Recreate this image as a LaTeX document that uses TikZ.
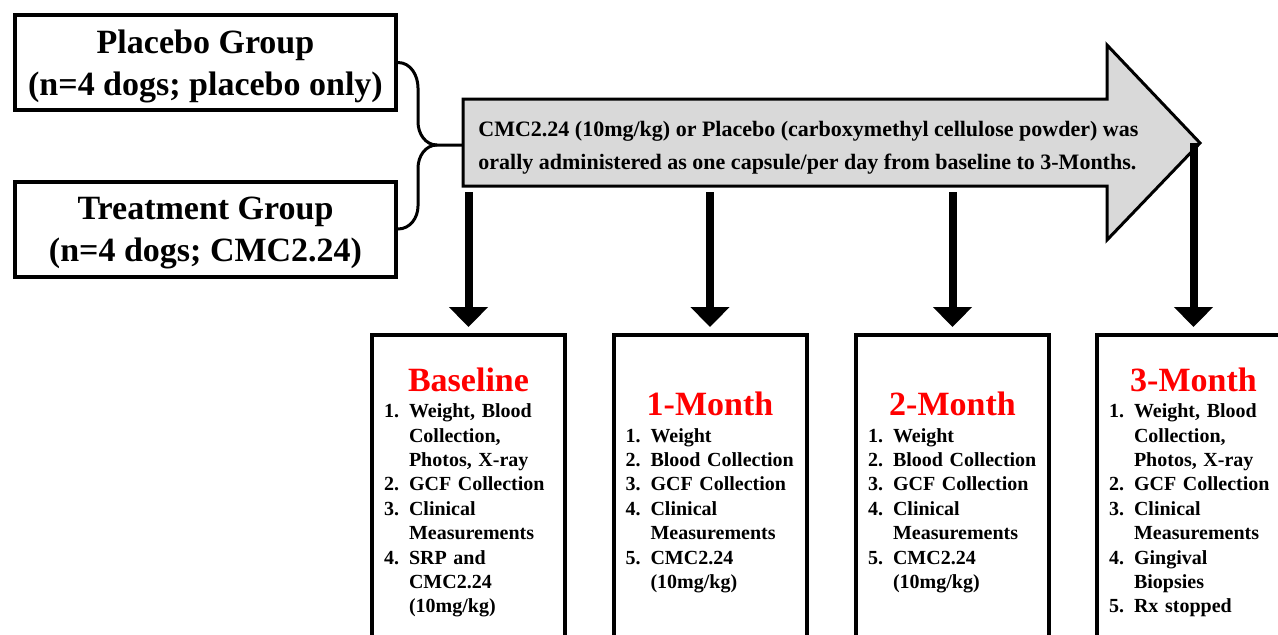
\documentclass[tikz,border=0pt]{standalone}
\usepackage{fontspec}
\setmainfont{Liberation Serif}
\usepackage{tikz}
\usetikzlibrary{arrows.meta,positioning}
\tikzset{px/.style={x=0.5pt,y=-0.5pt},
   grp/.style={draw, line width=2pt, minimum width=190.5pt, minimum height=47.5pt, text depth=0pt,
      align=center, font=\fontsize{17}{21}\selectfont\bfseries},
   stage/.style={draw, line width=2pt, minimum width=96.5pt, minimum height=155pt, anchor=north},
   steps/.style={text width=84.5pt, inner sep=0pt, align=left, yshift=-2pt,
      font=\fontsize{10}{12.2}\selectfont\bfseries},
   drugtext/.style={anchor=west, align=left, inner sep=0pt,
      font=\fontsize{11}{16.5}\selectfont\bfseries},
   brace/.style={line width=1.5pt},
   down/.style={line width=4pt, shorten >=3pt, -{Triangle[width=19pt,length=10pt]}}}
\newcommand{\stagetitle}[1]{{\noindent\centering\color{red}\fontsize{17}{20}\selectfont #1\par}\vspace{1pt}\noindent\ignorespaces}

\begin{document}
\begin{tikzpicture}[px]
\clip (0,0) rectangle (1278,634);

\node[grp] (placebo) at (205.5,62.5) {Placebo Group\\(n=4 dogs; placebo only)};
\node[grp] (treat) at (205.5,229) {Treatment Group\\(n=4 dogs; CMC2.24)};

\coordinate (tail) at (463,145);
\coordinate (tip) at (1200,143);
\draw[line width=1.5pt, fill=black!15] (463,99)--(1107,99)--(1107,45)--(tip)--(1107,240)--(1107,186)--(463,186)--cycle;
\node[drugtext] (drug) at (478,147.5) {CMC2.24 (10mg/kg) or Placebo (carboxymethyl cellulose powder) was\\
   orally administered as one capsule/per day from baseline to 3-Months.};

\coordinate (join) at (437,145);
\draw[brace] (placebo.east) to[out=0,in=90] (418,88) -- (418,122) to[out=-90,in=180] (join) -- (tail);
\draw[brace] (treat.east) to[out=0,in=-90] (418,206) -- (418,168) to[out=90,in=180] (join);

\node[stage] (base) at (468.5,333) {};
\node[stage] (mon1) at (710,333) {};
\node[stage] (mon2) at (952.5,333) {};
\node[stage] (mon3) at (1193.5,333) {};

\coordinate (drop) at (0,192);
\foreach \s in {base,mon1,mon2}
   \draw[down] (\s.north |- drop) -- (\s.north);
\draw[down] (mon3.north |- tip) -- (mon3.north);

\node[steps] (baseL) at (base.center) {\stagetitle{Baseline}
\begin{tabular}[t]{@{}l@{\hspace{5pt}}l@{}}
1. & Weight, Blood\\
   & Collection,\\
   & Photos, X-ray\\
2. & GCF Collection\\
3. & Clinical\\
   & Measurements\\
4. & SRP and\\
   & CMC2.24\\
   & (10mg/kg)
\end{tabular}};

\node[steps] (mon1L) at (mon1.center) {\stagetitle{1-Month}
\begin{tabular}[t]{@{}l@{\hspace{5pt}}l@{}}
1. & Weight\\
2. & Blood Collection\\
3. & GCF Collection\\
4. & Clinical\\
   & Measurements\\
5. & CMC2.24\\
   & (10mg/kg)
\end{tabular}};

\node[steps] (mon2L) at (mon2.center) {\stagetitle{2-Month}
\begin{tabular}[t]{@{}l@{\hspace{5pt}}l@{}}
1. & Weight\\
2. & Blood Collection\\
3. & GCF Collection\\
4. & Clinical\\
   & Measurements\\
5. & CMC2.24\\
   & (10mg/kg)
\end{tabular}};

\node[steps] (mon3L) at (mon3.center) {\stagetitle{3-Month}
\begin{tabular}[t]{@{}l@{\hspace{5pt}}l@{}}
1. & Weight, Blood\\
   & Collection,\\
   & Photos, X-ray\\
2. & GCF Collection\\
3. & Clinical\\
   & Measurements\\
4. & Gingival\\
   & Biopsies\\
5. & Rx stopped
\end{tabular}};
\end{tikzpicture}
\end{document}
